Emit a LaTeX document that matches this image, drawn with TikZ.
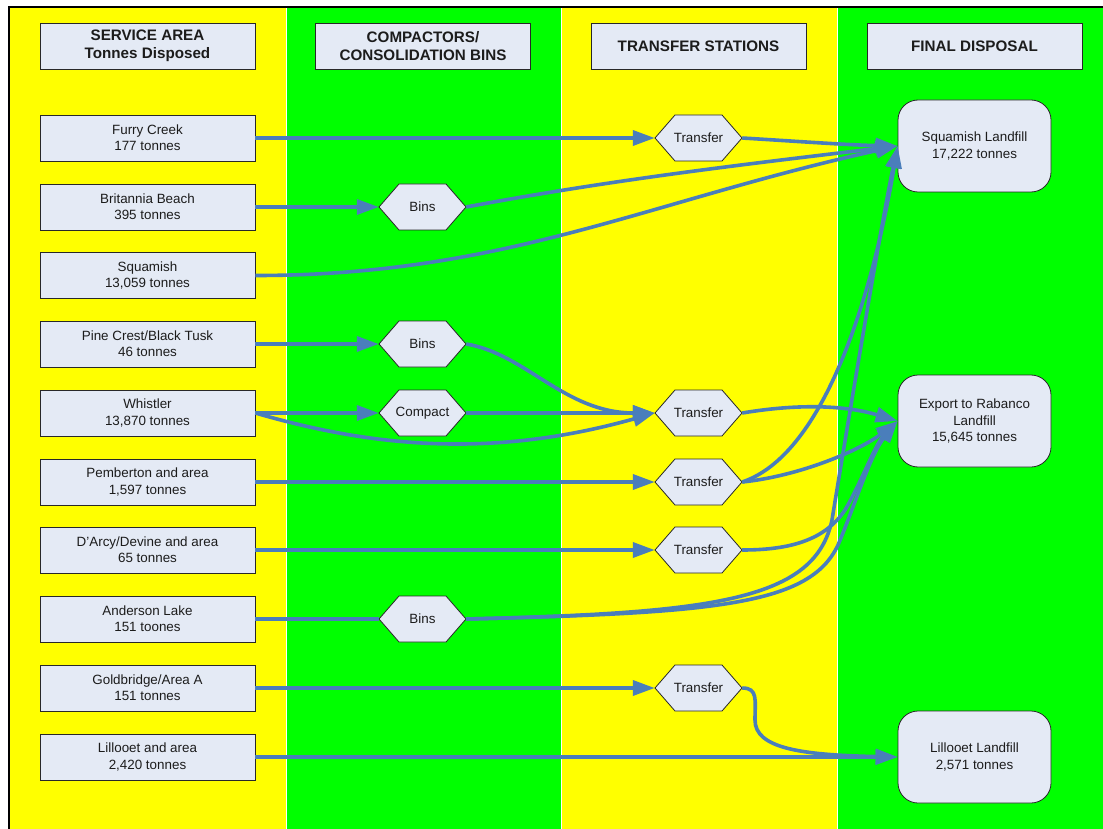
\documentclass[tikz,border=0pt]{standalone}
\usepackage{fontspec}
\setmainfont{Liberation Sans}
\usetikzlibrary{arrows.meta}
\definecolor{ybg}{RGB}{255,255,0}
\definecolor{gbg}{RGB}{0,255,0}
\definecolor{boxfill}{RGB}{228,234,245}
\definecolor{boxline}{RGB}{40,40,40}
\definecolor{flowc}{RGB}{74,126,187}
\definecolor{txt}{RGB}{28,28,28}
\newcommand\bodyfont{\fontsize{13.4}{16.3}\selectfont}
\newcommand\hdrfont{\fontsize{15.2}{17.7}\selectfont\bfseries}
\newcommand\hexat[3]{%
  \filldraw[hexshape] (#2) ++(-43.5,0) -- ++(20,-23) -- ++(47,0) -- ++(20,23) -- ++(-20,23) -- ++(-47,0) -- cycle;
  \node[hextext] (#1) at (#2) {#3};
}
\tikzset{
  hdr/.style={draw=boxline, line width=0.8pt, fill=boxfill, minimum width=215pt, minimum height=46pt, inner sep=0pt, align=center, font=\hdrfont, text=txt},
  area/.style={draw=boxline, line width=0.8pt, fill=boxfill, minimum width=215pt, minimum height=46pt, inner sep=0pt, align=center, font=\bodyfont, text=txt},
  dest/.style={draw=boxline, line width=0.8pt, fill=boxfill, rounded corners=20pt, minimum width=153pt, minimum height=92pt, inner sep=0pt, align=center, font=\bodyfont, text=txt},
  hexshape/.style={draw=boxline, line width=0.8pt, fill=boxfill, line join=miter},
  hextext/.style={minimum width=87pt, minimum height=46pt, inner sep=0pt, font=\bodyfont, text=txt},
  flowline/.style={draw=flowc, line width=3.6pt},
  arr/.style={flowline, -{Triangle[length=22pt,width=15pt]}}
}
\begin{document}
\begin{tikzpicture}[x=1pt,y=-1pt]
\useasboundingbox (0,0) rectangle (1103,829);
\fill[white] (0,0) rectangle (1103,829);
% columns
\fill[ybg] (9,7) rectangle (285.5,829);
\fill[gbg] (287,7) rectangle (560.5,829);
\fill[ybg] (562,7) rectangle (836.5,829);
\fill[gbg] (838,7) rectangle (1103,829);
\draw[black, line width=2pt] (9,829) -- (9,7) -- (1103,7);
% headers
\node[hdr] (hSA) at (147.5,46) {SERVICE AREA\\Tonnes Disposed};
\node[hdr] (hCB) at (423,46) {COMPACTORS/\\CONSOLIDATION BINS};
\node[hdr] (hTS) at (698.5,46) {TRANSFER STATIONS};
\node[hdr] (hFD) at (974.5,46) {FINAL DISPOSAL};
% service areas
\node[area] (furry) at (147.5,138) {Furry Creek\\177 tonnes};
\node[area] (brit) at (147.5,207) {Britannia Beach\\395 tonnes};
\node[area] (squa) at (147.5,275.5) {Squamish\\13,059 tonnes};
\node[area] (pine) at (147.5,344) {Pine Crest/Black Tusk\\46 tonnes};
\node[area] (whis) at (147.5,413) {Whistler\\13,870 tonnes};
\node[area] (pemb) at (147.5,482) {Pemberton and area\\1,597 tonnes};
\node[area] (darc) at (147.5,550) {D'Arcy/Devine and area\\65 tonnes};
\node[area] (ande) at (147.5,619) {Anderson Lake\\151 toones};
\node[area] (gold) at (147.5,688) {Goldbridge/Area A\\151 tonnes};
\node[area] (lill) at (147.5,757) {Lillooet and area\\2,420 tonnes};
% compactors / bins
\hexat{bins1}{422.5,207}{Bins}
\hexat{bins2}{422.5,344}{Bins}
\hexat{comp}{422.5,413}{Compact}
\hexat{bins3}{422.5,619}{Bins}
% transfer stations
\hexat{tr1}{698.5,138}{Transfer}
\hexat{tr2}{698.5,413}{Transfer}
\hexat{tr3}{698.5,482}{Transfer}
\hexat{tr4}{698.5,550}{Transfer}
\hexat{tr5}{698.5,688}{Transfer}
% final disposal
\node[dest] (sql) at (974.5,146) {Squamish Landfill\\17,222 tonnes};
\node[dest] (exp) at (974.5,421) {Export to Rabanco\\Landfill\\15,645 tonnes};
\node[dest] (lll) at (974.5,757) {Lillooet Landfill\\2,571 tonnes};
% connectors
\draw[arr] (furry.east) -- (tr1.west);
\draw[arr] (tr1.east) .. controls +(50,3) and +(-50,-1) .. (sql.west);
\draw[arr] (brit.east) -- (bins1.west);
\draw[arr] (bins1.east) .. controls +(150,-28) and +(-150,18) .. (sql.west);
\draw[arr] (squa.east) .. controls +(250,0) and +(-250,55) .. (sql.west);
\draw[arr] (pine.east) -- (bins2.west);
\draw[arr] (bins2.east) .. controls +(60,10) and +(-90,0) .. (tr2.west);
\draw[arr] (whis.east) -- (comp.west);
\draw[arr] (comp.east) -- (tr2.west);
\draw[arr] (whis.east) .. controls +(120,35) and +(-160,45) .. (tr2.west);
\draw[arr] (tr2.east) .. controls +(60,-10) and +(-50,-15) .. (exp.west);
\draw[arr] (pemb.east) -- (tr3.west);
\draw[arr] (tr3.east) .. controls +(90,-30) and +(-20,120) .. (sql.west);
\draw[arr] (tr3.east) .. controls +(58,-6) and +(-37,29) .. (exp.west);
\draw[arr] (darc.east) -- (tr4.west);
\draw[arr] (tr4.east) .. controls +(48,0) and (825,540) .. (845,510) .. controls (860,485) and (875,445) .. (exp.west);
\draw[flowline] (ande.east) -- (bins3.west);
\draw[arr] (bins3.east) .. controls +(250,-6) and (815,600) .. (832,520) .. controls (845,440) and (880,230) .. (sql.west);
\draw[arr] (bins3.east) .. controls +(250,-6) and (810,605) .. (838,545) .. controls (855,505) and (870,455) .. (exp.west);
\draw[arr] (gold.east) -- (tr5.west);
\draw[arr] (tr5.east) .. controls +(16,0) and (755,700) .. (755,720) .. controls (755,748) and (800,755) .. (lll.west);
\draw[arr] (lill.east) -- (lll.west);
\end{tikzpicture}
\end{document}
